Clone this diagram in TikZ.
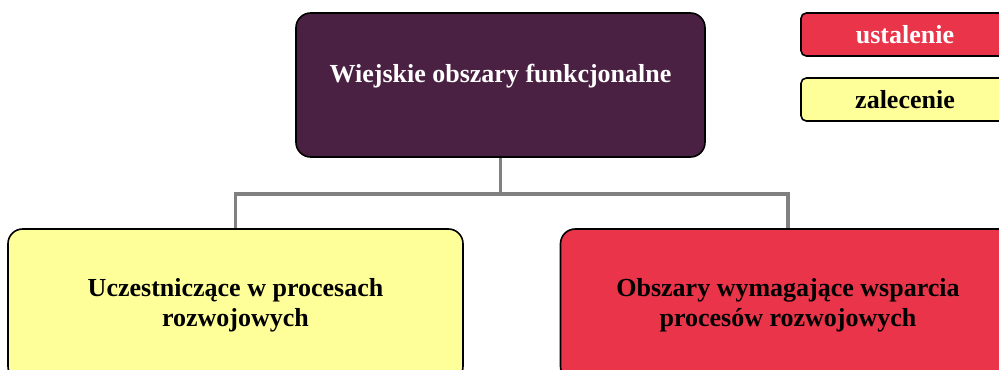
\documentclass[tikz,border=0pt]{standalone}
\usepackage{fontspec}
\setmainfont{Liberation Serif}
\usetikzlibrary{positioning, calc}
\definecolor{obszarplum}{RGB}{75,33,67}
\definecolor{ustalred}{RGB}{233,52,73}
\definecolor{zalecyellow}{RGB}{255,255,153}
\definecolor{linkgray}{RGB}{128,128,128}

\begin{document}
\begin{tikzpicture}[x=0.75pt, y=-0.75pt,
  box/.style={rectangle, draw=black, line width=1.2pt, rounded corners=11pt,
              font=\fontsize{19.5}{22.5}\selectfont\bfseries, align=center, inner sep=4pt},
  main/.style={box, fill=obszarplum, text=white, minimum width=306.75pt,
               minimum height=108pt, text height=10pt, text depth=14pt},
  sub/.style={box, minimum width=341.25pt, minimum height=114pt},
  leg/.style={box, rounded corners=4pt, minimum width=156pt, minimum height=32.25pt},
  conn/.style={draw=linkgray, line width=2.6pt},
]
\useasboundingbox (0,0) rectangle (999,369);
\clip (0,0) rectangle (999,369);

% --- root ---
\node[main] (root) at (500.5,85) {Wiejskie obszary funkcjonalne};

% --- two kinds of areas ---
\node[sub, fill=zalecyellow] (active) at (235.5,305)
  {Uczestniczące w procesach\\rozwojowych};
\node[sub, fill=ustalred] (support) at (788,305)
  {Obszary wymagające wsparcia\\procesów rozwojowych};

\draw[conn] (root.south) -- ++(0,36) coordinate (split) -| (active.north);
\draw[conn] (split) -| (support.north);

% --- legend ---
\node[leg, fill=ustalred, text=white] (ust) at (905,34.5) {ustalenie};
\node[leg, fill=zalecyellow] (zal) at (905,99.5) {zalecenie};
\end{tikzpicture}
\end{document}
